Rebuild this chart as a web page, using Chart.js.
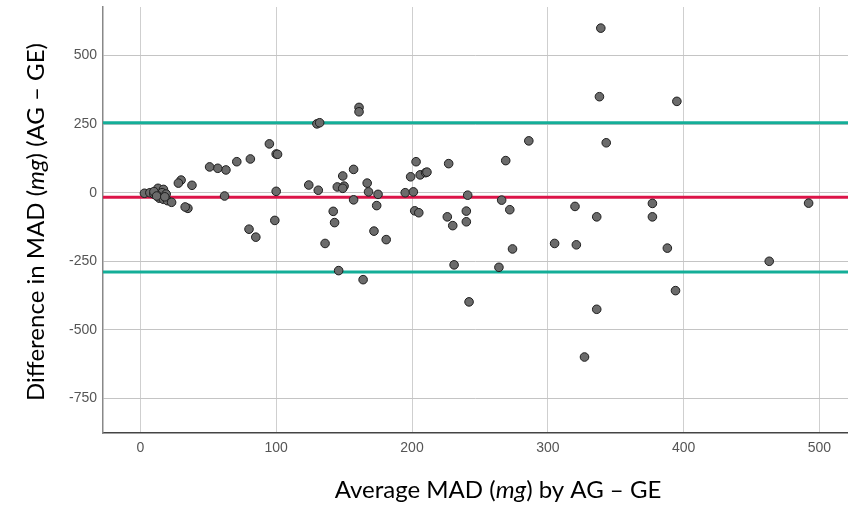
<!DOCTYPE html>
<html>
<head>
<meta charset="utf-8">
<script src="https://cdn.jsdelivr.net/npm/chart.js@4"></script>
<style>
    html, body { margin: 0; padding: 0; background: #fff; }
    #wrap { width: 848px; height: 509px; }
</style>
</head>
<body>
<div id="wrap"><canvas id="baChart" width="848" height="509"></canvas></div>
<script>
// Bland-Altman: promedio vs diferencia
const avgMAD = [
    339, 338, 395, 343, 320, 336, 377, 377, 492,
    305, 321, 388, 463, 394, 336, 327,
    124, 131, 149, 157, 145, 150, 149, 167, 168, 175, 157, 142, 143, 174, 172, 181, 136, 146, 164,
    195, 201, 199, 203, 206, 210, 211, 227, 202, 205, 226, 230, 240, 240, 241, 231, 242,
    269, 266, 272, 274, 264,
    161, 161, 130, 132, 286,
    95, 100, 101, 81, 71, 63, 57, 51, 30, 28, 38, 100, 62, 35, 33,
    99, 80, 85,
    3, 7, 10, 13, 17, 16, 19, 12, 14, 17, 20, 23, 10, 12, 18
];
const diffMAD = [
    600, 350, 333, 182, -50, -88, -39, -88, -38,
    -185, -190, -202, -250, -357, -425, -599,
    28, 9, 61, 85, 21, 24, 16, 35, 3, -6, -26, -68, -109, -47, -140, -171, -185, -284, -317,
    0, 3, 58, 113, 65, 73, 75, 106, -66, -73, -88, -120, -67, -106, -9, -263, -398,
    117, -27, -62, -205, -272,
    311, 295, 251, 255, 189,
    178, 141, 140, 123, 113, 83, 89, 94, 46, 35, 27, 5, -12, -57, -52,
    -101, -133, -162,
    -2, 0, -5, 16, 12, 0, -5, -8, -20, -24, -29, -35, 4, -12, -15
];

const meanDiff = -17;
const upperLoA = 255;
const lowerLoA = -289;

const xTicks = [0, 100, 200, 300, 400, 500];
const yTicks = [-750, -500, -250, 0, 250, 500];
const xRange = [-27.5, 521];
const yRange = [-876, 677];

const points = avgMAD.map((v, i) => ({ x: v, y: diffMAD[i] }));
const hLine = (y) => [{ x: xRange[0], y: y }, { x: xRange[1], y: y }];

const tickFont = { family: "'Liberation Sans Narrow', 'Arial Narrow', 'Liberation Sans', sans-serif", size: 14 };
const titleFont = "24px Lato, 'Open Sans', sans-serif";
const titleFontIt = "italic 24px Lato, 'Open Sans', sans-serif";

// titulos con "mg" en cursiva
function drawParts(ctx, parts, cx, cy) {
    let total = 0;
    parts.forEach(p => { ctx.font = p[1] ? titleFontIt : titleFont; total += ctx.measureText(p[0]).width; });
    let x = cx - total / 2;
    parts.forEach(p => {
        ctx.font = p[1] ? titleFontIt : titleFont;
        ctx.fillText(p[0], x, cy);
        x += ctx.measureText(p[0]).width;
    });
}

const axisTitles = {
    id: 'axisTitles',
    afterDraw(chart) {
        const ctx = chart.ctx;
        const area = chart.chartArea;
        ctx.save();
        ctx.fillStyle = '#000';
        ctx.textBaseline = 'middle';
        ctx.textAlign = 'left';
        drawParts(ctx, [['Average MAD (', false], ['mg', true], [') by AG \u2013 GE', false]], 498, 490);
        ctx.translate(36, (area.top + area.bottom) / 2 + 2);
        ctx.rotate(-Math.PI / 2);
        drawParts(ctx, [['Difference in MAD (', false], ['mg', true], [') (AG \u2013 GE)', false]], 0, 0);
        ctx.restore();
    }
};

new Chart(document.getElementById('baChart'), {
    type: 'scatter',
    data: {
        datasets: [
            {
                label: 'Diferencia',
                data: points,
                order: 0,
                pointRadius: 4.3,
                pointBackgroundColor: '#6b6b6b',
                pointBorderColor: '#1e1e1e',
                pointBorderWidth: 1
            },
            {
                type: 'line',
                label: 'Media',
                data: hLine(meanDiff),
                order: 1,
                borderColor: '#dc1448',
                borderWidth: 3,
                pointRadius: 0
            },
            {
                type: 'line',
                label: 'LoA sup',
                data: hLine(upperLoA),
                order: 1,
                borderColor: '#14ae98',
                borderWidth: 3,
                pointRadius: 0
            },
            {
                type: 'line',
                label: 'LoA inf',
                data: hLine(lowerLoA),
                order: 1,
                borderColor: '#14ae98',
                borderWidth: 3,
                pointRadius: 0
            }
        ]
    },
    options: {
        responsive: false,
        animation: false,
        layout: { autoPadding: false, padding: { top: 7, right: 0, left: 0, bottom: 0 } },
        plugins: { legend: { display: false }, tooltip: { enabled: false } },
        scales: {
            x: {
                type: 'linear',
                min: xRange[0],
                max: xRange[1],
                afterBuildTicks: (scale) => { scale.ticks = xTicks.map(v => ({ value: v })); },
                afterFit: (scale) => { scale.height = 76; scale.paddingLeft = 0; scale.paddingRight = 0; },
                grid: { color: '#cfcfcf', lineWidth: 1, drawTicks: false },
                border: { display: true, color: '#444', width: 1.5 },
                ticks: { color: '#555', font: tickFont, padding: 7 }
            },
            y: {
                type: 'linear',
                min: yRange[0],
                max: yRange[1],
                afterBuildTicks: (scale) => { scale.ticks = yTicks.map(v => ({ value: v })); },
                afterFit: (scale) => { scale.width = 103; scale.paddingTop = 0; scale.paddingBottom = 0; },
                grid: { color: '#c4c4c4', lineWidth: 1, drawTicks: false },
                border: { display: true, color: '#888', width: 1.5 },
                ticks: { color: '#555', font: tickFont, padding: 6 }
            }
        }
    },
    plugins: [axisTitles]
});
</script>
</body>
</html>
